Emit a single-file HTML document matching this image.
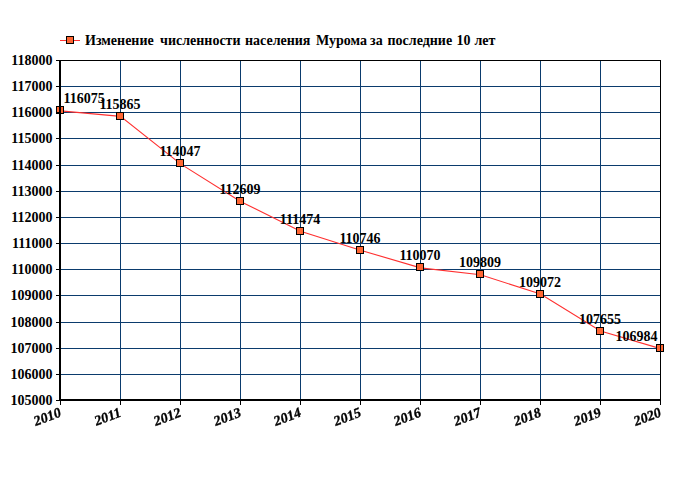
<!DOCTYPE html>
<html><head><meta charset="utf-8"><title>chart</title>
<style>
html,body{margin:0;padding:0;background:#fff;}
body{width:680px;height:500px;overflow:hidden;}
svg{display:block;}
text{font-family:"Liberation Serif",serif;font-weight:bold;font-size:14px;fill:#000;}
.xl{font-style:italic;stroke:#000;stroke-width:0.35px;}
</style></head><body>
<svg width="680" height="500" viewBox="0 0 680 500">
<rect width="680" height="500" fill="#fff"/>
<g fill="#0B3B6D" shape-rendering="crispEdges">
<rect x="61" y="86" width="599" height="1"/>
<rect x="61" y="112" width="599" height="1"/>
<rect x="61" y="138" width="599" height="1"/>
<rect x="61" y="165" width="599" height="1"/>
<rect x="61" y="191" width="599" height="1"/>
<rect x="61" y="217" width="599" height="1"/>
<rect x="61" y="243" width="599" height="1"/>
<rect x="61" y="269" width="599" height="1"/>
<rect x="61" y="295" width="599" height="1"/>
<rect x="61" y="322" width="599" height="1"/>
<rect x="61" y="348" width="599" height="1"/>
<rect x="61" y="374" width="599" height="1"/>
<rect x="120" y="61" width="1" height="338"/>
<rect x="180" y="61" width="1" height="338"/>
<rect x="240" y="61" width="1" height="338"/>
<rect x="300" y="61" width="1" height="338"/>
<rect x="360" y="61" width="1" height="338"/>
<rect x="420" y="61" width="1" height="338"/>
<rect x="480" y="61" width="1" height="338"/>
<rect x="540" y="61" width="1" height="338"/>
<rect x="600" y="61" width="1" height="338"/>
</g>
<polyline fill="none" stroke="#FF3030" stroke-width="1.1" points="60.50,110.85 120.50,116.34 180.50,163.89 240.50,201.50 300.50,231.18 360.50,250.22 420.50,267.90 480.50,274.73 540.50,294.00 600.50,331.06 660.50,348.61"/>
<g fill="#FF6633" stroke="#000" stroke-width="1">
<rect x="56.5" y="106.5" width="7" height="7"/>
<rect x="116.5" y="112.5" width="7" height="7"/>
<rect x="176.5" y="159.5" width="7" height="7"/>
<rect x="236.5" y="197.5" width="7" height="7"/>
<rect x="296.5" y="227.5" width="7" height="7"/>
<rect x="356.5" y="246.5" width="7" height="7"/>
<rect x="416.5" y="263.5" width="7" height="7"/>
<rect x="476.5" y="270.5" width="7" height="7"/>
<rect x="536.5" y="290.5" width="7" height="7"/>
<rect x="596.5" y="327.5" width="7" height="7"/>
<rect x="656.5" y="344.5" width="7" height="7"/>
</g>
<g fill="#000" shape-rendering="crispEdges">
<rect x="60" y="60" width="601" height="1"/>
<rect x="660" y="60" width="1" height="340"/>
<rect x="59" y="60" width="2" height="341"/>
<rect x="59" y="399" width="602" height="2"/>
<rect x="56" y="60" width="4" height="1"/>
<rect x="56" y="86" width="4" height="1"/>
<rect x="56" y="112" width="4" height="1"/>
<rect x="56" y="138" width="4" height="1"/>
<rect x="56" y="165" width="4" height="1"/>
<rect x="56" y="191" width="4" height="1"/>
<rect x="56" y="217" width="4" height="1"/>
<rect x="56" y="243" width="4" height="1"/>
<rect x="56" y="269" width="4" height="1"/>
<rect x="56" y="295" width="4" height="1"/>
<rect x="56" y="322" width="4" height="1"/>
<rect x="56" y="348" width="4" height="1"/>
<rect x="56" y="374" width="4" height="1"/>
<rect x="56" y="400" width="4" height="1"/>
<rect x="60" y="400" width="1" height="5"/>
<rect x="120" y="400" width="1" height="5"/>
<rect x="180" y="400" width="1" height="5"/>
<rect x="240" y="400" width="1" height="5"/>
<rect x="300" y="400" width="1" height="5"/>
<rect x="360" y="400" width="1" height="5"/>
<rect x="420" y="400" width="1" height="5"/>
<rect x="480" y="400" width="1" height="5"/>
<rect x="540" y="400" width="1" height="5"/>
<rect x="600" y="400" width="1" height="5"/>
<rect x="660" y="400" width="1" height="5"/>
</g>
<text x="52.5" y="65" text-anchor="end">118000</text>
<text x="52.5" y="91" text-anchor="end">117000</text>
<text x="52.5" y="117" text-anchor="end">116000</text>
<text x="52.5" y="143" text-anchor="end">115000</text>
<text x="52.5" y="170" text-anchor="end">114000</text>
<text x="52.5" y="196" text-anchor="end">113000</text>
<text x="52.5" y="222" text-anchor="end">112000</text>
<text x="52.5" y="248" text-anchor="end">111000</text>
<text x="52.5" y="274" text-anchor="end">110000</text>
<text x="52.5" y="300" text-anchor="end">109000</text>
<text x="52.5" y="327" text-anchor="end">108000</text>
<text x="52.5" y="353" text-anchor="end">107000</text>
<text x="52.5" y="379" text-anchor="end">106000</text>
<text x="52.5" y="405" text-anchor="end">105000</text>
<g style="filter:grayscale(1)">
<text class="xl" text-anchor="end" transform="translate(62.0,415.9) rotate(-21)">2010</text>
<text class="xl" text-anchor="end" transform="translate(122.0,415.9) rotate(-21)">2011</text>
<text class="xl" text-anchor="end" transform="translate(182.0,415.9) rotate(-21)">2012</text>
<text class="xl" text-anchor="end" transform="translate(242.0,415.9) rotate(-21)">2013</text>
<text class="xl" text-anchor="end" transform="translate(302.0,415.9) rotate(-21)">2014</text>
<text class="xl" text-anchor="end" transform="translate(362.0,415.9) rotate(-21)">2015</text>
<text class="xl" text-anchor="end" transform="translate(422.0,415.9) rotate(-21)">2016</text>
<text class="xl" text-anchor="end" transform="translate(482.0,415.9) rotate(-21)">2017</text>
<text class="xl" text-anchor="end" transform="translate(542.0,415.9) rotate(-21)">2018</text>
<text class="xl" text-anchor="end" transform="translate(602.0,415.9) rotate(-21)">2019</text>
<text class="xl" text-anchor="end" transform="translate(662.0,415.9) rotate(-21)">2020</text>
</g>
<text x="63.5" y="103">116075</text>
<text x="120" y="109" text-anchor="middle">115865</text>
<text x="180" y="156" text-anchor="middle">114047</text>
<text x="240" y="194" text-anchor="middle">112609</text>
<text x="300" y="224" text-anchor="middle">111474</text>
<text x="360" y="243" text-anchor="middle">110746</text>
<text x="420" y="260" text-anchor="middle">110070</text>
<text x="480" y="267" text-anchor="middle">109809</text>
<text x="540" y="287" text-anchor="middle">109072</text>
<text x="600" y="324" text-anchor="middle">107655</text>
<text x="657.5" y="341" text-anchor="end">106984</text>
<line x1="60" y1="40.5" x2="80" y2="40.5" stroke="#FF3333" stroke-width="1"/>
<rect x="66.5" y="36.5" width="7" height="7" fill="#FF6633" stroke="#000" stroke-width="1"/>
<text y="45"><tspan x="85">Изменение</tspan><tspan x="160">численности</tspan><tspan x="245">населения</tspan><tspan x="316">Мурома</tspan><tspan x="370">за</tspan><tspan x="387.5">последние</tspan><tspan x="456.5">10</tspan><tspan x="474.5">лет</tspan></text>
</svg></body></html>
